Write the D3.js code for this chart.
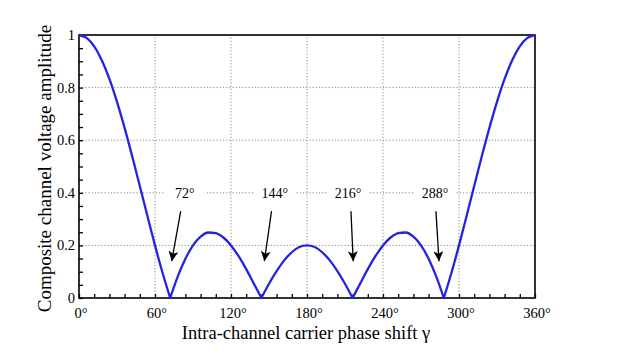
<!DOCTYPE html>
<html>
<head>
<meta charset="utf-8">
<script src="https://cdn.jsdelivr.net/npm/d3@7"></script>
<style>
  body { margin: 0; background: #fff; }
  svg { display: block; }
</style>
</head>
<body>
<div id="chart"></div>
<script>
// Data: phase shift (deg) and amplitude
const phase = [0, 6, 12, 18, 24, 30, 36, 42, 48, 54, 60, 66, 72, 78, 84, 90, 96, 102, 108, 114, 120, 126, 132, 138, 144,
  150, 156, 162, 168, 174, 180, 186, 192, 198, 204, 210, 216, 222, 228, 234, 240, 246, 252, 258, 264, 270, 276, 282, 288,
  294, 300, 306, 312, 318, 324, 330, 336, 342, 348, 354, 360];
const amplitude = [1, 0.989, 0.957, 0.904, 0.833, 0.746, 0.647, 0.539, 0.426, 0.312, 0.2, 0.095, 0, 0.082, 0.149, 0.2, 0.233, 0.249, 0.247, 0.230, 0.2, 0.159, 0.110, 0.055, 0,
  0.054, 0.102, 0.143, 0.174, 0.194, 0.2, 0.194, 0.174, 0.143, 0.102, 0.054, 0, 0.055, 0.110, 0.159, 0.2, 0.230, 0.247, 0.249, 0.233, 0.2, 0.149, 0.082, 0,
  0.095, 0.2, 0.312, 0.426, 0.539, 0.647, 0.746, 0.833, 0.904, 0.957, 0.989, 1];
// zeros split the curve into lobes
const nulls = [72, 144, 216, 288];

const xTicks = [0, 60, 120, 180, 240, 300, 360];
const yTicks = [0, 0.2, 0.4, 0.6, 0.8, 1];

// Annotations (data coordinates)
const noteLabels = ["72°", "144°", "216°", "288°"];
const noteTextX = [83.5, 154.5, 212.5, 281];
const noteFromX = [80.3, 152, 214.7, 281.8];
const noteToX = [73.2, 146.3, 216.5, 284.2];
const noteTextY = 0.4;
const noteFromY = 0.33;
const noteToY = 0.14;

const width = 628, height = 356;
const margin = { top: 35, right: 93, bottom: 58, left: 79 };

const svg = d3.select("#chart").append("svg")
  .attr("width", width)
  .attr("height", height);

const x = d3.scaleLinear().domain([0, 360]).range([margin.left, width - margin.right]);
const y = d3.scaleLinear().domain([0, 1]).range([height - margin.bottom, margin.top]);

const font = "'Liberation Serif', 'Times New Roman', serif";

// gridlines
const grid = svg.append("g")
  .attr("stroke", "#8a8a8a")
  .attr("stroke-width", 1)
  .attr("stroke-dasharray", "1.2,2");
grid.selectAll(".gx").data(xTicks.slice(1, -1)).enter().append("line")
  .attr("x1", d => x(d)).attr("x2", d => x(d))
  .attr("y1", y(0)).attr("y2", y(1));
grid.selectAll(".gy").data(yTicks.slice(1, -1)).enter().append("line")
  .attr("x1", x(0)).attr("x2", x(360))
  .attr("y1", d => y(d)).attr("y2", d => y(d));

// axes with inward ticks
const xAxis = svg.append("g")
  .attr("transform", `translate(0,${y(0)})`)
  .call(d3.axisBottom(x).tickValues(d3.range(0, 361, 12)).tickSize(-4).tickFormat(""));
xAxis.select(".domain").remove();
xAxis.selectAll(".tick line").attr("stroke", "#000").attr("stroke-width", 1.3);

const yAxis = svg.append("g")
  .attr("transform", `translate(${x(0)},0)`)
  .call(d3.axisLeft(y).tickValues(d3.range(0, 1.001, 0.05)).tickSize(-4).tickFormat(""));
yAxis.select(".domain").remove();
yAxis.selectAll(".tick line").attr("stroke", "#000").attr("stroke-width", 1.3);

// frame
svg.append("rect")
  .attr("x", x(0)).attr("y", y(1))
  .attr("width", x(360) - x(0)).attr("height", y(0) - y(1))
  .attr("fill", "none")
  .attr("stroke", "#000")
  .attr("stroke-width", 1.6);

// tick labels
svg.selectAll(".xl").data(xTicks).enter().append("text")
  .attr("x", d => x(d) + 2)
  .attr("y", y(0) + 19.5)
  .attr("text-anchor", "middle")
  .style("font-family", font)
  .style("font-size", "14.5px")
  .text(d => d + "°");

svg.selectAll(".yl").data(yTicks).enter().append("text")
  .attr("x", x(0) - 4)
  .attr("y", d => y(d) + 5)
  .attr("text-anchor", "end")
  .style("font-family", font)
  .style("font-size", "14.5px")
  .text(d => d3.format("~g")(d));

// axis titles
svg.append("text")
  .attr("x", 306)
  .attr("y", 338.5)
  .attr("text-anchor", "middle")
  .style("font-family", font)
  .style("font-size", "18.5px")
  .text("Intra-channel carrier phase shift γ");

svg.append("text")
  .attr("transform", `translate(51,${(y(0) + y(1)) / 2 + 2}) rotate(-90)`)
  .attr("text-anchor", "middle")
  .style("font-family", font)
  .style("font-size", "19px")
  .text("Composite channel voltage amplitude");

// curve, drawn lobe by lobe so the nulls stay sharp
const pts = phase.map((p, i) => ({ p, a: amplitude[i] }));
const bounds = [0, ...nulls, 360];
const line = d3.line()
  .x(d => x(d.p))
  .y(d => y(d.a))
  .curve(d3.curveMonotoneX);
for (let k = 0; k < bounds.length - 1; k++) {
  const seg = pts.filter(d => d.p >= bounds[k] && d.p <= bounds[k + 1]);
  svg.append("path")
    .attr("d", line(seg))
    .attr("fill", "none")
    .attr("stroke", "#2323e6")
    .attr("stroke-width", 2.3)
    .attr("stroke-linejoin", "round");
}

// annotations
svg.append("defs").append("marker")
  .attr("id", "head")
  .attr("viewBox", "0 0 10 10")
  .attr("refX", 10).attr("refY", 5)
  .attr("markerWidth", 13).attr("markerHeight", 10)
  .attr("markerUnits", "userSpaceOnUse")
  .attr("orient", "auto")
  .append("path")
  .attr("d", "M0,0 L10,5 L0,10 L2.5,5 z")
  .attr("fill", "#000");

const notes = svg.selectAll(".note").data(noteLabels).enter().append("g");
notes.append("rect")
  .attr("x", (d, i) => x(noteTextX[i]) - 20)
  .attr("y", y(noteTextY) - 9)
  .attr("width", 40)
  .attr("height", 18)
  .attr("fill", "#fff");
notes.append("text")
  .attr("x", (d, i) => x(noteTextX[i]))
  .attr("y", y(noteTextY) + 5)
  .attr("text-anchor", "middle")
  .style("font-family", font)
  .style("font-size", "14px")
  .text(d => d);
notes.append("line")
  .attr("x1", (d, i) => x(noteFromX[i]))
  .attr("y1", y(noteFromY))
  .attr("x2", (d, i) => x(noteToX[i]))
  .attr("y2", y(noteToY))
  .attr("stroke", "#000")
  .attr("stroke-width", 1.3)
  .attr("marker-end", "url(#head)");
</script>
</body>
</html>
